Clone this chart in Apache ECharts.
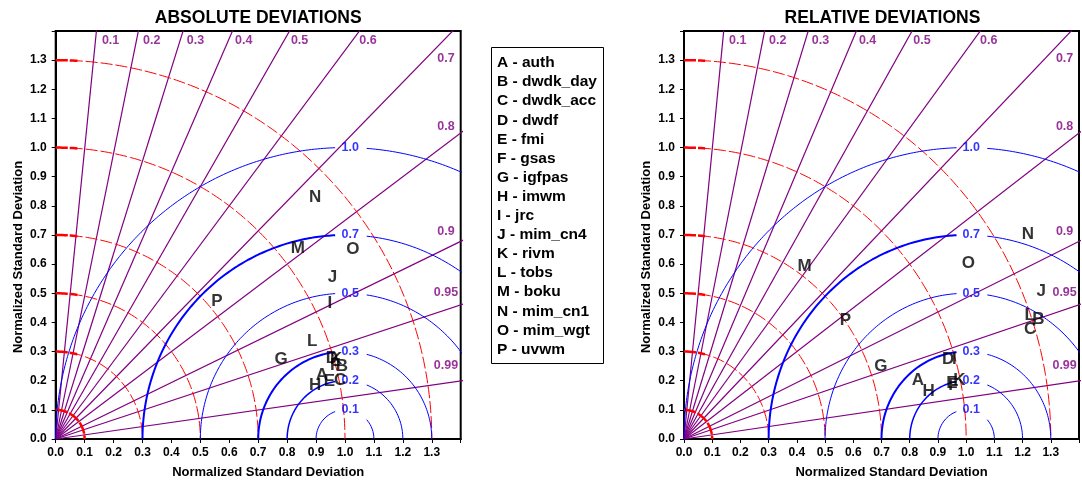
<!DOCTYPE html>
<html><head><meta charset="utf-8">
<script src="https://cdn.jsdelivr.net/npm/echarts@6/dist/echarts.min.js"></script>
<style>html,body{margin:0;padding:0;background:#fff}#c{width:1082px;height:485px}</style>
</head><body><div id="c"></div>
<script>
// ---- data ----
const letters = ['A','B','C','D','E','F','G','H','I','J','K','L','M','N','O','P'];
const models = ['auth','dwdk_day','dwdk_acc','dwdf','fmi','gsas','igfpas','imwm','jrc','mim_cn4','rivm','tobs','boku','mim_cn1','mim_wgt','uvwm'];
// absolute deviations: x = std*cos(theta), y = std*sin(theta)
const absX = [0.920,0.989,0.983,0.955,0.946,0.966,0.779,0.897,0.948,0.957,0.969,0.887,0.837,0.897,1.027,0.557];
const absY = [0.220,0.248,0.203,0.277,0.199,0.254,0.275,0.185,0.466,0.554,0.274,0.334,0.655,0.830,0.651,0.474];
// relative deviations
const relX = [0.829,1.256,1.227,0.936,0.950,0.955,0.698,0.867,0.958,1.266,0.976,1.225,0.427,1.219,1.008,0.572];
const relY = [0.203,0.409,0.378,0.274,0.191,0.185,0.251,0.162,0.274,0.506,0.203,0.424,0.594,0.703,0.603,0.406];
const titles = ['ABSOLUTE DEVIATIONS','RELATIVE DEVIATIONS'];
const corrValues = [0.1,0.2,0.3,0.4,0.5,0.6,0.7,0.8,0.9,0.95,0.99];
const corrLabels = ['0.1','0.2','0.3','0.4','0.5','0.6','0.7','0.8','0.9','0.95','0.99'];
const stdRadii = [0.1,0.3,0.5,0.7,1.0,1.3];
const rmsRadii = [0.1,0.2,0.3,0.5,0.7,1.0];
const rmsLabels = ['0.1','0.2','0.3','0.5','0.7','1.0'];
const axisName = 'Normalized Standard Deviation';

// ---- styles ----
const FONT = '"Liberation Sans", Arial, Helvetica, sans-serif';
const PURPLE = '#800080', BLUE = '#0000ff', RED = '#ff0000';
const grids = [
  {left: 55.7, top: 31, width: 405, height: 408},
  {left: 684, top: 31, width: 405, height: 408}
];

function arc(cx, r, a0, a1, n) {
  const pts = [];
  for (let i = 0; i <= n; i++) {
    const a = a0 + (a1 - a0) * i / n;
    pts.push([cx + r * Math.cos(a), r * Math.sin(a)]);
  }
  return pts;
}
function lineSeries(gi, data, color, width, type, z) {
  return {type: 'line', xAxisIndex: gi, yAxisIndex: gi, data, showSymbol: false, symbol: 'none',
    clip: true, silent: true, animation: false, z: z || 2,
    lineStyle: {color, width, type: type || 'solid'}};
}

const series = [];
const graphics = [];
[0, 1].forEach(gi => {
  // correlation rays
  corrValues.forEach(c => {
    const a = Math.acos(c);
    series.push(lineSeries(gi, [[0, 0], [2.5 * Math.cos(a), 2.5 * Math.sin(a)]], PURPLE, 1.2, 'solid', 2));
  });
  // correlation labels
  const corrData = corrValues.map((c, i) => {
    const t = Math.sqrt(1 - c * c) / c;
    const xTop = 1.37 / t;
    if (xTop < 1.25) {
      return {value: [xTop + 0.022, 1.366], name: corrLabels[i], label: {align: 'left'}};
    }
    return {value: [1.349, Math.min(1.349 * t + 0.06, 1.307)], name: corrLabels[i], label: {align: 'center'}};
  });
  series.push({type: 'scatter', xAxisIndex: gi, yAxisIndex: gi, data: corrData, symbolSize: 1,
    itemStyle: {color: 'rgba(0,0,0,0)'}, silent: true, animation: false, z: 5,
    label: {show: true, position: 'inside', formatter: p => p.name, color: PURPLE,
      fontWeight: 'bold', fontSize: 12.5, fontFamily: FONT, verticalAlign: 'middle'}});
  // std dev arcs (red dashed)
  stdRadii.forEach(r => {
    const full = Math.PI / 2;
    const thickA = r <= 0.1 ? full : Math.min(full, 0.075 / r);
    series.push(lineSeries(gi, arc(0, r, full, 0, 120), RED, 1, [12, 3], 3));
    series.push(lineSeries(gi, arc(0, r, full, full - thickA, 30), RED, 2.5, [12, 2], 3));
  });
  // RMS arcs (blue) with gap for labels
  rmsRadii.forEach((r, i) => {
    const aL = Math.acos(Math.max(-1, (0.966 - 1) / r));
    const aR = Math.acos(Math.min(1, 0.075 / r));
    const wl = r === 0.3 || r === 0.7 ? 2 : (r === 0.2 ? 1.5 : 1);
    series.push(lineSeries(gi, arc(1, r, Math.PI, aL, 150), BLUE, wl, 'solid', 4));
    series.push(lineSeries(gi, arc(1, r, aR, 0, 150), BLUE, 1, 'solid', 4));
  });
  series.push({type: 'scatter', xAxisIndex: gi, yAxisIndex: gi,
    data: rmsRadii.map((r, i) => ({value: [1.018, r], name: rmsLabels[i]})), symbolSize: 1,
    itemStyle: {color: 'rgba(0,0,0,0)'}, silent: true, animation: false, z: 5,
    label: {show: true, position: 'inside', formatter: p => p.name, color: BLUE,
      fontWeight: 'bold', fontSize: 12.5, fontFamily: FONT, align: 'center', verticalAlign: 'middle'}});
  // model points as letters
  const xs = gi === 0 ? absX : relX, ys = gi === 0 ? absY : relY;
  series.push({type: 'scatter', xAxisIndex: gi, yAxisIndex: gi,
    data: letters.map((l, i) => ({value: [xs[i], ys[i]], name: l})), symbolSize: 1,
    itemStyle: {color: 'rgba(0,0,0,0)'}, silent: true, animation: false, z: 10,
    label: {show: true, position: 'inside', formatter: p => p.name, color: '#000',
      fontWeight: 'bold', fontSize: 17, fontFamily: FONT, align: 'center', verticalAlign: 'middle'}});
  // title
  graphics.push({type: 'text', x: grids[gi].left + grids[gi].width / 2 - (gi === 1 ? 4 : 0), y: 18, z: 20,
    style: {text: titles[gi], font: 'bold 17.5px ' + FONT, fill: '#000',
      textAlign: 'center', textVerticalAlign: 'middle', align: 'center', verticalAlign: 'middle'}});
});

// legend box
graphics.push({type: 'rect', shape: {x: 491.5, y: 47.5, width: 112, height: 316},
  style: {fill: '#fff', stroke: '#000', lineWidth: 1}, z: 20});
letters.forEach((l, i) => {
  graphics.push({type: 'text', x: 497, y: 63 + i * 19.1, z: 21,
    style: {text: l + ' - ' + models[i], font: 'bold 15.5px ' + FONT, fill: '#000',
      textAlign: 'left', textVerticalAlign: 'middle', align: 'left', verticalAlign: 'middle'}});
});

const axisCommon = {
  type: 'value', min: 0, max: 1.4, interval: 0.1,
  axisLine: {show: true, onZero: false, lineStyle: {color: '#000', width: 2}},
  axisTick: {show: true, inside: false, length: 4, lineStyle: {color: '#000', width: 1}},
  splitLine: {show: false},
  axisLabel: {color: '#000', fontWeight: 'bold', fontSize: 12, fontFamily: FONT,
    formatter: v => v > 1.35 ? '' : v.toFixed(1)},
  name: axisName, nameLocation: 'middle',
};

const chart = echarts.init(document.getElementById('c'), null, {renderer: 'canvas'});
chart.setOption({
  animation: false,
  backgroundColor: '#fff',
  grid: grids.map(g => Object.assign({show: true, borderColor: '#000', borderWidth: 2, backgroundColor: 'transparent'}, g)),
  xAxis: [0, 1].map(gi => Object.assign({}, axisCommon, {gridIndex: gi, position: 'bottom', nameGap: 27,
    axisLabel: Object.assign({}, axisCommon.axisLabel, {margin: 8}),
    nameTextStyle: {color: '#000', fontWeight: 'bold', fontSize: 13, fontFamily: FONT, padding: [0, 0, 0, 20]}})),
  yAxis: [0, 1].map(gi => Object.assign({}, axisCommon, {gridIndex: gi, position: 'left', nameGap: 31,
    axisLabel: Object.assign({}, axisCommon.axisLabel, {margin: 9}),
    nameTextStyle: {color: '#000', fontWeight: 'bold', fontSize: 13, fontFamily: FONT, padding: [0, 44, 0, 0]}})),
  series,
  graphic: graphics
});
</script>
</body></html>
